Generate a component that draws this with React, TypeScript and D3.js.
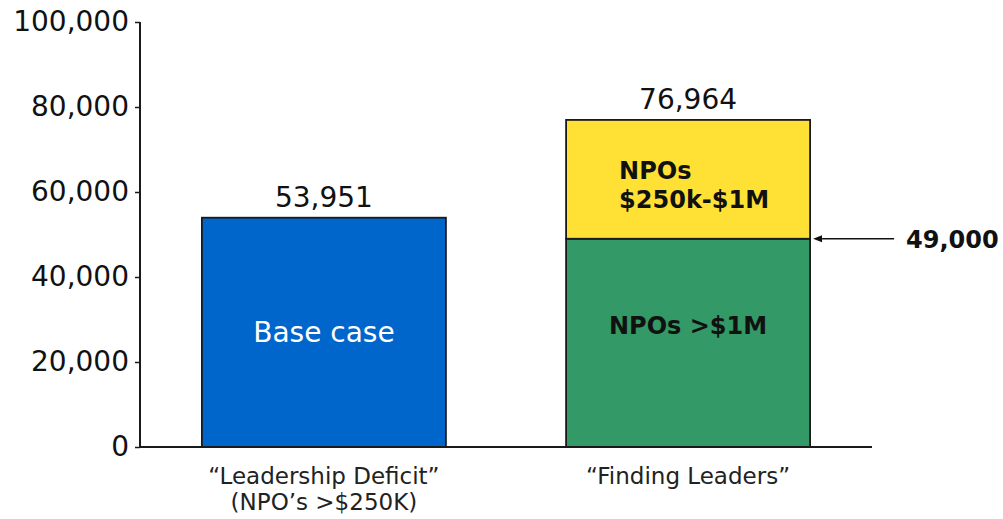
import React, { useEffect, useRef } from 'react';
import * as d3 from 'd3';

const categories = ['leadership', 'finding'];
const categoryLines = [
  ['\u201CLeadership Deficit\u201D', '(NPO\u2019s >$250K)'],
  ['\u201CFinding Leaders\u201D'],
];
const segmentKeys = ['base', 'large', 'mid'];
const baseCase = [53951, 0];
const npoLarge = [0, 49000];
const npoMid = [0, 27964];
const totals = [53951, 76964];
const yTicks = [0, 20000, 40000, 60000, 80000, 100000];
const marker = 49000;

const colors: Record<string, string> = { base: '#0066cc', large: '#339966', mid: '#ffe135' };
const FONT = '"DejaVu Sans", Verdana, sans-serif';

const App = () => {
  const svgRef = useRef<SVGSVGElement>(null);

  useEffect(() => {
    const width = 1003;
    const height = 519;
    const svg = d3.select(svgRef.current).attr('width', width).attr('height', height);
    svg.selectAll('*').remove();

    const rows = categories.map((c, i) => ({ cat: c, base: baseCase[i], large: npoLarge[i], mid: npoMid[i] }));

    const x = d3.scaleBand().domain(categories).range([140, 872]).paddingInner(0.33).paddingOuter(0.17);
    const y = d3.scaleLinear().domain([0, 100000]).range([447, 22]);

    const stack = d3.stack<any>().keys(segmentKeys);
    const series = stack(rows);

    // bars
    series.forEach(s => {
      svg.append('g')
        .selectAll('rect')
        .data(s.filter(d => d[1] - d[0] > 0))
        .enter().append('rect')
        .attr('x', d => x(d.data.cat)!)
        .attr('y', d => y(d[1]))
        .attr('width', x.bandwidth())
        .attr('height', d => y(d[0]) - y(d[1]))
        .attr('fill', colors[s.key])
        .attr('stroke', '#1a1a1a')
        .attr('stroke-width', 1.8);
    });

    // y axis
    const yAxis = svg.append('g')
      .attr('transform', 'translate(140,0)')
      .call(d3.axisLeft(y).tickValues(yTicks).tickFormat(d3.format(',')).tickSize(5).tickPadding(6));
    yAxis.select('.domain').remove();
    yAxis.selectAll('.tick line').attr('stroke', '#1a1a1a').attr('stroke-width', 1.5);
    yAxis.selectAll('.tick text')
      .attr('fill', '#111')
      .style('font-family', FONT)
      .style('font-size', '28px');

    svg.append('line')
      .attr('x1', 140).attr('x2', 140)
      .attr('y1', y(100000)).attr('y2', y(0) + 1)
      .attr('stroke', '#1a1a1a').attr('stroke-width', 2);
    svg.append('line')
      .attr('x1', 139).attr('x2', 872)
      .attr('y1', y(0)).attr('y2', y(0))
      .attr('stroke', '#1a1a1a').attr('stroke-width', 2);

    // totals
    svg.append('g').selectAll('text')
      .data(categories)
      .enter().append('text')
      .attr('x', d => x(d)! + x.bandwidth() / 2)
      .attr('y', (d, i) => y(totals[i]) - 11)
      .attr('text-anchor', 'middle')
      .attr('fill', '#111')
      .style('font-family', FONT)
      .style('font-size', '28px')
      .text((d, i) => d3.format(',')(totals[i]));

    // category labels
    categories.forEach((c, i) => {
      const t = svg.append('text')
        .attr('x', x(c)! + x.bandwidth() / 2)
        .attr('y', 484)
        .attr('text-anchor', 'middle')
        .attr('fill', '#222')
        .style('font-family', FONT)
        .style('font-size', '23px');
      categoryLines[i].forEach((line, j) => {
        t.append('tspan')
          .attr('x', x(c)! + x.bandwidth() / 2)
          .attr('dy', j === 0 ? 0 : 26)
          .text(line);
      });
    });

    // inside labels
    const c0 = x(categories[0])! + x.bandwidth() / 2;
    svg.append('text')
      .attr('x', c0)
      .attr('y', y(baseCase[0] / 2) + 10)
      .attr('text-anchor', 'middle')
      .attr('fill', '#fff')
      .style('font-family', FONT)
      .style('font-size', '28px')
      .text('Base case');

    const c1 = x(categories[1])! + x.bandwidth() / 2;
    svg.append('text')
      .attr('x', c1)
      .attr('y', y(npoLarge[1]) + 95)
      .attr('text-anchor', 'middle')
      .attr('fill', '#111')
      .style('font-family', FONT)
      .style('font-size', '24px')
      .style('font-weight', 'bold')
      .text('NPOs >$1M');

    const midLabel = svg.append('text')
      .attr('x', x(categories[1])! + 53)
      .attr('y', y(totals[1]) + 59)
      .attr('fill', '#111')
      .style('font-family', FONT)
      .style('font-size', '24px')
      .style('font-weight', 'bold');
    midLabel.append('tspan').attr('x', x(categories[1])! + 53).text('NPOs');
    midLabel.append('tspan').attr('x', x(categories[1])! + 53).attr('dy', 29).text('$250k-$1M');

    // 49,000 marker arrow
    const defs = svg.append('defs');
    defs.append('marker')
      .attr('id', 'arrow')
      .attr('viewBox', '0 0 10 10')
      .attr('refX', 0).attr('refY', 5)
      .attr('markerWidth', 9).attr('markerHeight', 9)
      .attr('markerUnits', 'userSpaceOnUse')
      .attr('orient', 'auto-start-reverse')
      .append('path')
      .attr('d', 'M0,1 L10,5 L0,9 Z')
      .attr('fill', '#111');
    const xEnd = x(categories[1])! + x.bandwidth();
    svg.append('line')
      .attr('x1', xEnd + 12).attr('x2', xEnd + 84)
      .attr('y1', y(marker)).attr('y2', y(marker))
      .attr('stroke', '#111').attr('stroke-width', 1.5)
      .attr('marker-start', 'url(#arrow)');
    svg.append('text')
      .attr('x', xEnd + 96)
      .attr('y', y(marker) + 9)
      .attr('fill', '#111')
      .style('font-family', FONT)
      .style('font-size', '24px')
      .style('font-weight', 'bold')
      .text(d3.format(',')(marker));

    return () => {
      d3.select(svgRef.current).selectAll('*').remove();
    };
  }, []);

  return (
    <svg ref={svgRef} style={{ position: 'absolute', left: 0, top: 0, background: '#fff' }}></svg>
  );
};

export default App;
